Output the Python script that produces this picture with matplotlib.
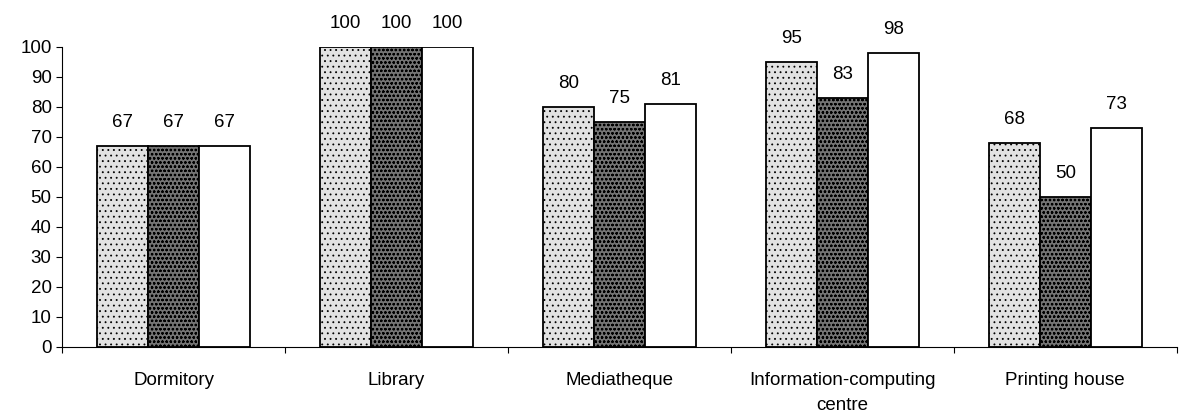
import matplotlib.pyplot as plt
import numpy as np

categories = ["Dormitory", "Library", "Mediatheque", "Information-computing\ncentre", "Printing house"]
series_a = [67, 100, 80, 95, 68]
series_b = [67, 100, 75, 83, 50]
series_c = [67, 100, 81, 98, 73]

plt.rcParams['font.family'] = ['Liberation Sans', 'DejaVu Sans']
plt.rcParams['hatch.linewidth'] = 0.6

fig = plt.figure(figsize=(11.82, 4.18), dpi=100)
ax = fig.add_axes([0.0525, 0.17, 0.943, 0.7176])

x = np.arange(len(categories))
w = 0.229
styles = [
    dict(facecolor="#e2e2e2", hatch="..."),
    dict(facecolor="#747474", hatch="oooo"),
    dict(facecolor="white", hatch=None),
]
for i, (vals, st) in enumerate(zip([series_a, series_b, series_c], styles)):
    bars = ax.bar(x + (i - 1) * w, vals, w, edgecolor="black", linewidth=1.3, **st)
    for b, v in zip(bars, vals):
        ax.annotate(str(v), (b.get_x() + b.get_width() / 2, v), xytext=(0, 11),
                    textcoords="offset points", ha="center", va="bottom", fontsize=13.5)

ax.set_xlim(-0.5, len(categories) - 0.5)
ax.set_ylim(0, 100)
ax.set_yticks(range(0, 101, 10))
ax.tick_params(axis="y", labelsize=13.5, length=4, direction="out")
ax.set_xticks(np.arange(-0.5, len(categories), 1))
ax.set_xticklabels([])
ax.tick_params(axis="x", which="major", length=4, direction="out")
ax.set_xticks(x, minor=True)
ax.set_xticklabels(categories, minor=True, fontsize=13.5, linespacing=1.6)
ax.tick_params(axis="x", which="minor", length=0, pad=18)
ax.spines["top"].set_visible(False)
ax.spines["right"].set_visible(False)

plt.savefig("out.png")
